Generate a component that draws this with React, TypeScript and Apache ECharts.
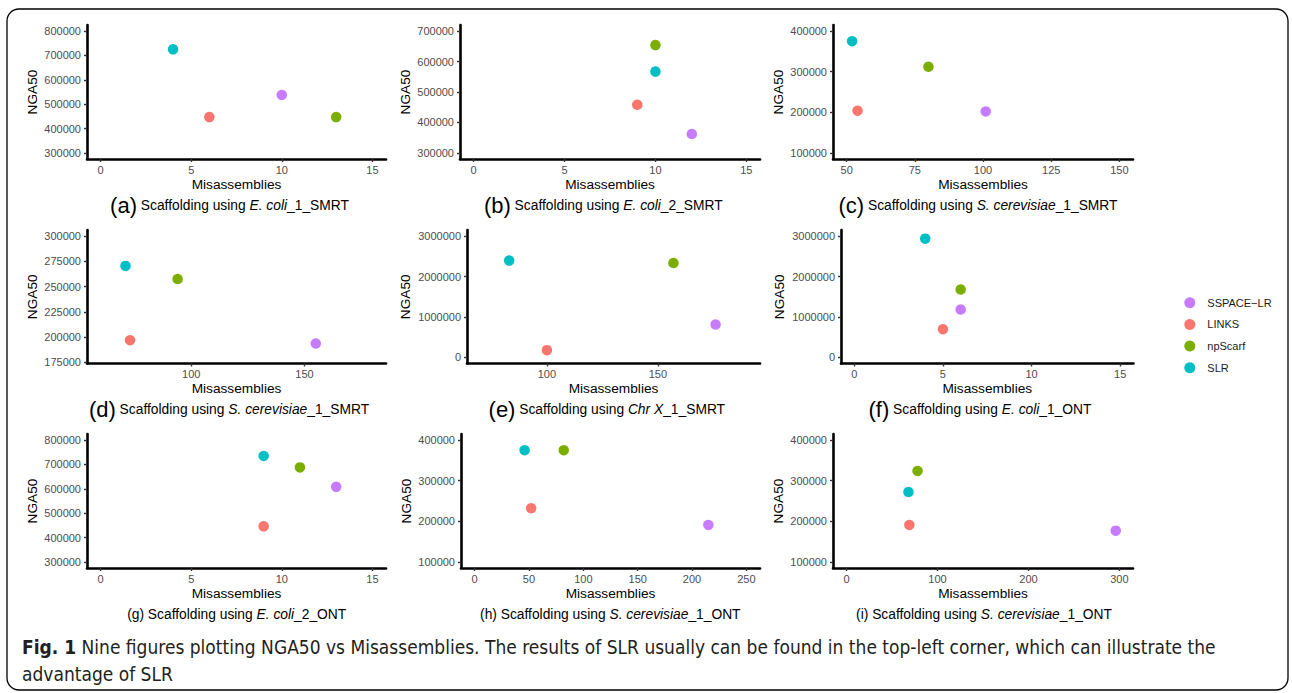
import React, { useEffect, useRef } from "react";
import * as echarts from "echarts";

// ---- data ----
const methods = ["SSPACE−LR", "LINKS", "npScarf", "SLR"];
const colors = ["#C77CFF", "#F8766D", "#7CAE00", "#00BFC4"];

// order of values in each array: SSPACE-LR, LINKS, npScarf, SLR
const misA = [10, 6, 13, 4];
const ngaA = [538000, 447000, 447000, 725000];
const misB = [12, 9, 10, 10];
const ngaB = [362000, 458000, 654000, 567000];
const misC = [101, 54, 80, 52];
const ngaC = [202000, 204000, 312000, 375000];
const misD = [155, 73, 94, 71];
const ngaD = [193700, 197000, 257500, 270500];
const misE = [176, 100, 157, 83];
const ngaE = [814000, 180000, 2334000, 2393000];
const misF = [6, 5, 6, 4];
const ngaF = [1184000, 698000, 1678000, 2936000];
const misG = [13, 9, 11, 9];
const ngaG = [608000, 446000, 688000, 735000];
const misH = [215, 52, 82, 46];
const ngaH = [191000, 232000, 375000, 375000];
const misI = [296, 69, 78, 68];
const ngaI = [177000, 191000, 324000, 272000];

const misAll = [misA, misB, misC, misD, misE, misF, misG, misH, misI];
const ngaAll = [ngaA, ngaB, ngaC, ngaD, ngaE, ngaF, ngaG, ngaH, ngaI];

const xTicksA = [0, 5, 10, 15];
const xTicksC = [50, 75, 100, 125, 150];
const xTicksD = [100, 150];
const xTicksH = [0, 50, 100, 150, 200, 250];
const xTicksI = [0, 100, 200, 300];
const yTicks38 = [300000, 400000, 500000, 600000, 700000, 800000];
const yTicks37 = [300000, 400000, 500000, 600000, 700000];
const yTicks14 = [100000, 200000, 300000, 400000];
const yTicksD = [175000, 200000, 225000, 250000, 275000, 300000];
const yTicks03 = [0, 1000000, 2000000, 3000000];

const xTicksAll = [xTicksA, xTicksA, xTicksC, xTicksD, xTicksD, xTicksA, xTicksA, xTicksH, xTicksI];
const yTicksAll = [yTicks38, yTicks37, yTicks14, yTicksD, yTicks03, yTicks03, yTicks38, yTicks14, yTicks14];

// axis limits (ggplot limits with 5% expansion)
const xLimits = [
  [-0.75, 15.75], [-0.75, 15.75], [45, 155],
  [54, 186], [64, 196], [-0.75, 15.75],
  [-0.75, 15.75], [-12.5, 262.5], [-15, 315],
];
const yLimits = [
  [275000, 825000], [280000, 720000], [85000, 415000],
  [174000, 306000], [-150000, 3150000], [-150000, 3150000],
  [275000, 825000], [85000, 415000], [85000, 415000],
];

const capLabel = ["(a)", "(b)", "(c)", "(d)", "(e)", "(f)", "(g)", "(h)", "(i)"];
const capItalic = ["E. coli", "E. coli", "S. cerevisiae", "S. cerevisiae", "Chr X", "E. coli", "E. coli", "S. cerevisiae", "S. cerevisiae"];
const capSuffix = ["_1_SMRT", "_2_SMRT", "_1_SMRT", "_1_SMRT", "_1_SMRT", "_1_ONT", "_2_ONT", "_1_ONT", "_1_ONT"];

const figCaption1 = "Nine figures plotting NGA50 vs Misassemblies. The results of SLR usually can be found in the top-left corner, which can illustrate the";
const figCaption2 = "advantage of SLR";

// ---- layout ----
const grids = [
  { left: 87, top: 25, width: 299, height: 134 },
  { left: 460, top: 25, width: 300, height: 134 },
  { left: 833, top: 25, width: 300, height: 134 },
  { left: 87, top: 230, width: 299, height: 133.5 },
  { left: 467, top: 230, width: 293, height: 133.5 },
  { left: 841, top: 230, width: 292.5, height: 133.5 },
  { left: 87, top: 434, width: 299, height: 134 },
  { left: 461, top: 434, width: 299, height: 134 },
  { left: 833, top: 434, width: 300, height: 134 },
];
const capPos = [
  [229.5, 205], [603.3, 205], [978, 205],
  [229, 409.3], [606.8, 409.3], [980, 409.3],
  [236.7, 614], [610.3, 614], [984, 614],
];

const FONT = "'Liberation Sans', Arial, Helvetica, sans-serif";
const CAPFONT = "'DejaVu Sans Condensed', 'Open Sans', sans-serif";

export default function App() {
  const ref = useRef<HTMLDivElement>(null);
  useEffect(() => {
    if (!ref.current) return;
    const chart = echarts.init(ref.current, undefined, { renderer: "svg" });
    const fmt = (v: number) => String(v);

    const xAxis = grids.map((_, p) => ({
      type: "value",
      gridIndex: p,
      min: xLimits[p][0],
      max: xLimits[p][1],
      name: "Misassemblies",
      nameLocation: "middle",
      nameGap: 18,
      nameTextStyle: { color: "#000", fontSize: 13.7, fontFamily: FONT },
      axisLine: { show: true, onZero: false, lineStyle: { color: "#000", width: 2.6 } },
      axisTick: { show: true, length: 3, lineStyle: { color: "#333", width: 1.4 }, customValues: xTicksAll[p] },
      axisLabel: { color: "#4D4D4D", fontSize: 11, fontFamily: FONT, margin: 5, formatter: fmt, customValues: xTicksAll[p] },
      splitLine: { show: false },
    }));
    const yAxis = grids.map((_, p) => ({
      type: "value",
      gridIndex: p,
      min: yLimits[p][0],
      max: yLimits[p][1],
      name: "NGA50",
      nameLocation: "middle",
      nameGap: p === 4 || p === 5 ? 54.5 : 48,
      nameTextStyle: { color: "#000", fontSize: 13.7, fontFamily: FONT },
      axisLine: { show: true, onZero: false, lineStyle: { color: "#000", width: 2.6 } },
      axisTick: { show: true, length: 3, lineStyle: { color: "#333", width: 1.4 }, customValues: yTicksAll[p] },
      axisLabel: { color: "#4D4D4D", fontSize: 11, fontFamily: FONT, margin: 6, formatter: fmt, customValues: yTicksAll[p] },
      splitLine: { show: false },
    }));

    const series: any[] = [];
    grids.forEach((_, p) => {
      methods.forEach((name, m) => {
        series.push({
          type: "scatter",
          name,
          xAxisIndex: p,
          yAxisIndex: p,
          data: [[misAll[p][m], ngaAll[p][m]]],
          symbolSize: 10.5,
          itemStyle: { color: colors[m], opacity: 1 },
          emphasis: { disabled: true },
          silent: true,
        });
      });
    });

    const graphics: any[] = [
      {
        type: "rect",
        shape: { x: 7, y: 9, width: 1281, height: 681, r: 12 },
        style: { fill: "transparent", stroke: "#000", lineWidth: 1.3 },
        silent: true,
      },
    ];
    capPos.forEach((pos, p) => {
      const big = p < 6;
      graphics.push({
        type: "text",
        x: pos[0],
        y: pos[1],
        silent: true,
        style: {
          text: `{lab|${capLabel[p]}} {n|Scaffolding using }{it|${capItalic[p]}}{n|${capSuffix[p]}}`,
          textAlign: "center",
          align: "center",
          textVerticalAlign: "middle",
          verticalAlign: "middle",
          fontFamily: FONT,
          fontSize: 13.8,
          fill: "#000",
          rich: {
            lab: { fontFamily: FONT, fontSize: big ? 22 : 13.8, fill: "#000", color: "#000" },
            n: { fontFamily: FONT, fontSize: 13.8, fill: "#000", color: "#000" },
            it: { fontFamily: FONT, fontSize: 13.8, fontStyle: "italic", fill: "#000", color: "#000" },
          },
        },
      });
    });
    graphics.push({
      type: "text",
      x: 22,
      y: 647,
      silent: true,
      style: {
        text: `{b|Fig. 1} {n|${figCaption1}}`,
        textAlign: "left",
        align: "left",
        textVerticalAlign: "middle",
        verticalAlign: "middle",
        fontFamily: CAPFONT,
        fontSize: 19,
        fill: "#231f20",
        rich: {
          b: { fontFamily: CAPFONT, fontSize: 19, fontWeight: "bold", fill: "#231f20", color: "#231f20" },
          n: { fontFamily: CAPFONT, fontSize: 19, fill: "#231f20", color: "#231f20" },
        },
      },
    });
    graphics.push({
      type: "text",
      x: 22,
      y: 674,
      silent: true,
      style: {
        text: figCaption2,
        textAlign: "left",
        align: "left",
        textVerticalAlign: "middle",
        verticalAlign: "middle",
        fontFamily: CAPFONT,
        fontSize: 19,
        fill: "#231f20",
      },
    });

    chart.setOption({
      animation: false,
      backgroundColor: "#fff",
      grid: grids.map((g) => ({ ...g, containLabel: false })),
      xAxis,
      yAxis,
      series,
      legend: {
        data: methods.map((name) => ({ name, icon: "circle" })),
        orient: "vertical",
        left: 1184.3,
        top: 297.2,
        padding: 0,
        itemWidth: 25,
        itemHeight: 11,
        itemGap: 10.7,
        selectedMode: false,
        textStyle: { fontSize: 11, color: "#1a1a1a", fontFamily: FONT },
      },
      graphic: graphics,
    });
    return () => chart.dispose();
  }, []);
  return (
    <div
      ref={ref}
      style={{ position: "fixed", left: 0, top: 0, width: 1292, height: 693, background: "#fff" }}
    />
  );
}
